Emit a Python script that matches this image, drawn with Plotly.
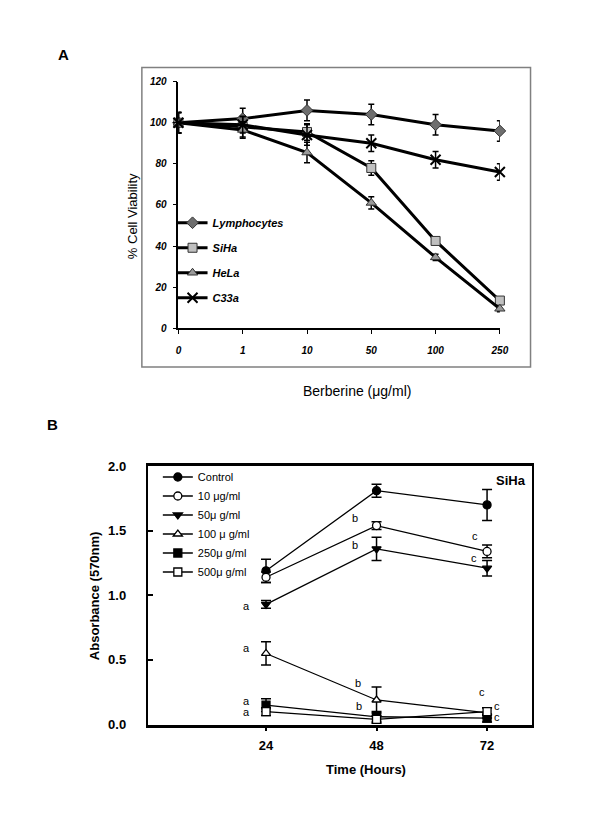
import plotly.graph_objects as go

FONT = "Arial, Liberation Sans, sans-serif"
W, H = 600, 820

# ---------------- Panel A data ----------------
conc_labels = ["0", "1", "10", "50", "100", "250"]
conc_pos = [0, 1, 2, 3, 4, 5]
lymph = [100, 102, 106, 104, 99, 96]
lymph_err = [5, 5, 5, 5, 5, 5]
siha = [100, 98, 95.5, 78, 42.5, 13.5]
siha_err = [5, 5, 4, 3.5, 1.5, 1.5]
hela = [100, 96.5, 85.5, 61, 34.5, 9.5]
hela_err = [5, 4, 5, 3, 1.5, 1.5]
c33a = [100, 99, 94, 90, 82, 76]
c33a_err = [5, 4, 5, 4, 4, 4]

# ---------------- Panel B data ----------------
hours = [24, 48, 72]
ctrl = [1.19, 1.81, 1.70]
ctrl_err = [0.09, 0.05, 0.12]
d10 = [1.14, 1.54, 1.34]
d10_err = [0.04, 0.03, 0.05]
d50 = [0.93, 1.36, 1.21]
d50_err = [0.03, 0.09, 0.06]
d100 = [0.55, 0.19, 0.09]
d100_err = [0.09, 0.10, 0.04]
d250 = [0.15, 0.06, 0.05]
d250_err = [0.05, 0.04, 0.03]
d500 = [0.10, 0.04, 0.10]
d500_err = [0.03, 0.03, 0.03]

# significance letters (x in hours, y in absorbance)
sig_text = ["a", "a", "a", "a", "b", "b", "b", "b", "c", "c", "c", "c", "c"]
sig_x = [19.7, 19.7, 19.7, 19.7, 43.3, 43.3, 44.0, 44.2, 69.3, 69.1, 70.9, 74.2, 74.2]
sig_y = [0.92, 0.59, 0.18, 0.095, 1.60, 1.39, 0.32, 0.145, 1.46, 1.29, 0.25, 0.14, 0.06]


def px(x):
    return x / W


def py(y):
    return 1 - y / H


fig = go.Figure()

# ---- Panel A traces ----
specA = [
    ("Lymphocytes", lymph, lymph_err, "diamond", "#6e6e6e", 9),
    ("SiHa", siha, siha_err, "square", "#c0c0c0", 9),
    ("HeLa", hela, hela_err, "triangle-up", "#9a9a9a", 9),
    ("C33a", c33a, c33a_err, "x-thin", "black", 10),
]
for name, ys, es, sym, col, sz in specA:
    fig.add_trace(go.Scatter(
        x=conc_pos, y=ys, name=name, mode="lines+markers",
        xaxis="x", yaxis="y", legend="legend", legendgroup=name,
        line=dict(color="black", width=3),
        marker=dict(symbol=sym, size=sz, color=col,
                    line=dict(color="black" if sym == "x-thin" else "#333333",
                              width=2 if sym == "x-thin" else 1)),
        error_y=dict(type="data", array=es, visible=True, color="black",
                     thickness=1.5, width=3),
        cliponaxis=False,
    ))

# ---- Panel B traces ----
specB = [
    ("Control", ctrl, ctrl_err, "circle", "black"),
    ("10 μg/ml", d10, d10_err, "circle", "white"),
    ("50μ g/ml", d50, d50_err, "triangle-down", "black"),
    ("100 μ g/ml", d100, d100_err, "triangle-up", "white"),
    ("250μ g/ml", d250, d250_err, "square", "black"),
    ("500μ g/ml", d500, d500_err, "square", "white"),
]
for name, ys, es, sym, col in specB:
    fig.add_trace(go.Scatter(
        x=hours, y=ys, name=name, mode="lines+markers",
        xaxis="x2", yaxis="y2", legend="legend2",
        line=dict(color="black", width=1.3),
        marker=dict(symbol=sym, size=8, color=col,
                    line=dict(color="black", width=1.3)),
        error_y=dict(type="data", array=es, visible=True, color="black",
                     thickness=1.5, width=5),
        cliponaxis=False,
    ))

annotations = [
    dict(text="A", x=px(62), y=py(48), xref="paper", yref="paper",
         font=dict(size=15, weight="bold")),
    dict(text="B", x=px(50), y=py(425), xref="paper", yref="paper",
         font=dict(size=15, weight="bold")),
    dict(text="% Cell Viability", x=px(131.7), y=py(213), xref="paper",
         yref="paper", textangle=-90, font=dict(size=13)),
    dict(text="Berberine (μg/ml)", x=px(361.7), y=py(391), xref="paper",
         yref="paper", font=dict(size=14)),
    dict(text="Absorbance (570nm)", x=px(93), y=py(600), xref="paper",
         yref="paper", textangle=-90, font=dict(size=13, weight="bold")),
    dict(text="Time (Hours)", x=px(370), y=py(777), xref="paper",
         yref="paper", font=dict(size=13, weight="bold")),
    dict(text="SiHa", x=px(518), y=py(482), xref="paper", yref="paper",
         font=dict(size=13, weight="bold")),
]
for t, xv, yv in zip(sig_text, sig_x, sig_y):
    annotations.append(dict(text=t, x=xv, y=yv, xref="x2", yref="y2",
                            font=dict(size=11, color="black")))
for a in annotations:
    a.update(showarrow=False, xanchor="center", yanchor="middle")

fig.update_layout(
    width=W, height=H, margin=dict(l=0, r=0, t=0, b=0),
    paper_bgcolor="white", plot_bgcolor="white",
    font=dict(family=FONT, color="black"),
    xaxis=dict(
        domain=[px(179), px(507)], range=[0, 5], anchor="y",
        tickmode="array", tickvals=conc_pos, ticktext=conc_labels,
        showline=True, linecolor="black", linewidth=1.5,
        ticks="outside", ticklen=4, tickcolor="black", tickwidth=1,
        ticklabelstandoff=8,
        tickfont=dict(family=FONT, size=10, weight="bold", style="italic"),
        showgrid=False, zeroline=False,
    ),
    yaxis=dict(
        domain=[py(327.3), py(76)], range=[0, 120], anchor="x",
        tickmode="array", tickvals=[0, 20, 40, 60, 80, 100, 120],
        showline=True, linecolor="black", linewidth=1.5,
        ticks="outside", ticklen=4, tickcolor="black", tickwidth=1,
        ticklabelstandoff=4,
        tickfont=dict(family=FONT, size=10, weight="bold", style="italic"),
        showgrid=False, zeroline=False,
    ),
    xaxis2=dict(
        domain=[px(147.7), px(540)], range=[-1.68, 81.8], anchor="y2",
        tickmode="array", tickvals=hours,
        showline=True, linecolor="black", linewidth=2.5, mirror=True,
        ticks="outside", ticklen=4, tickcolor="black", tickwidth=1.5,
        ticklabelstandoff=3,
        tickfont=dict(family=FONT, size=13, weight="bold"),
        showgrid=False, zeroline=False,
    ),
    yaxis2=dict(
        domain=[py(730.9), py(467.7)], range=[0, 2], anchor="x2",
        tickmode="array", tickvals=[0, 0.5, 1.0, 1.5, 2.0], tickformat=".1f",
        showline=True, linecolor="black", linewidth=2, mirror=True,
        ticks="inside", ticklen=5, tickcolor="black", tickwidth=2,
        ticklabelstandoff=17,
        tickfont=dict(family=FONT, size=13, weight="bold"),
        showgrid=False, zeroline=False,
    ),
    legend=dict(
        x=px(173), y=py(205), xanchor="left", yanchor="top",
        bgcolor="rgba(0,0,0,0)", borderwidth=0, tracegroupgap=6,
        font=dict(family=FONT, size=11, weight="bold", style="italic"),
    ),
    legend2=dict(
        x=px(158), y=py(464), xanchor="left", yanchor="top",
        bgcolor="rgba(0,0,0,0)", borderwidth=0,
        font=dict(family=FONT, size=11),
    ),
    showlegend=True,
    shapes=[dict(type="rect", xref="paper", yref="paper",
                 x0=px(141.7), x1=px(538.3), y0=py(366.7), y1=py(61.7),
                 line=dict(color="#808080", width=1.5))],
    annotations=annotations,
)

fig.write_html("out.html", config={"displayModeBar": False},
               post_script="document.body.style.margin='0';")
